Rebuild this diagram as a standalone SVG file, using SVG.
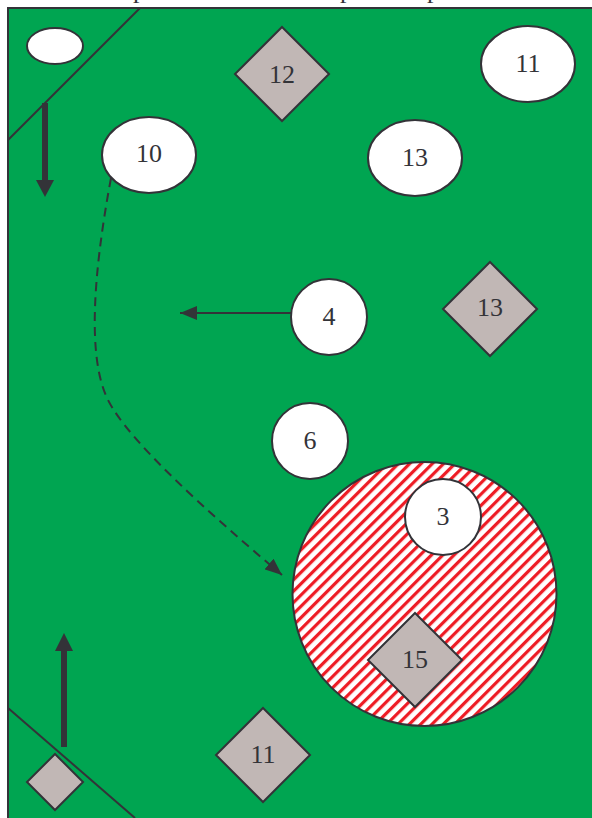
<svg xmlns="http://www.w3.org/2000/svg" width="592" height="818" viewBox="0 0 592 818">
<style>
.ln{stroke:#333338;stroke-width:2;fill:none}
.ell{fill:#ffffff;stroke:#333338;stroke-width:2}
.dia{fill:#c1b7b5;stroke:#333338;stroke-width:2}
.lbl{font-family:'Liberation Serif','Times New Roman',Times,serif;font-size:26px;fill:#333338;text-anchor:middle;dominant-baseline:central}
.top{font-family:'Liberation Serif','Times New Roman',Times,serif;font-size:26px;fill:#333338}
.thick{stroke:#333338;stroke-width:6;fill:none}
.head{fill:#333338}
</style>
<defs>
<pattern id="hatch" patternUnits="userSpaceOnUse" width="8" height="8" patternTransform="rotate(-45)">
<rect x="0" y="0" width="8" height="8" fill="#ffffff"/>
<rect x="0" y="0" width="8" height="3.2" fill="#ee1c25"/>
</pattern>
<marker id="arr" markerWidth="18" markerHeight="14" refX="17" refY="7" orient="auto" markerUnits="userSpaceOnUse">
<path d="M0,0 L17,7 L0,14 Z" fill="#333338"/>
</marker>
</defs>
<rect x="0" y="0" width="592" height="818" fill="#ffffff"/>
<text class="top" x="133" y="-2">p</text>
<text class="top" x="340" y="-2">p</text>
<text class="top" x="427" y="-2">p</text>
<rect id="field" x="8" y="8" width="610" height="840" fill="#00a551" stroke="#333338" stroke-width="2"/>
<line class="ln" x1="140" y1="8" x2="8" y2="140"/>
<line class="ln" x1="8" y1="708" x2="135" y2="818"/>

<g id="corner-top">
<ellipse class="ell" cx="55" cy="46" rx="28" ry="18"/>
</g>
<g id="corner-bottom">
<polygon class="dia" points="55,754 83,782 55,810 27,782"/>
</g>

<g id="zone">
<circle cx="424.5" cy="594" r="132" fill="url(#hatch)" stroke="#333338" stroke-width="2"/>
</g>

<g id="connectors">
<line class="thick" x1="45" y1="103" x2="45" y2="182"/>
<polygon class="head" points="36,180 54,180 45,197"/>
<line class="thick" x1="64" y1="747" x2="64" y2="649"/>
<polygon class="head" points="55,651 73,651 64,633"/>
<line class="ln" x1="291" y1="313" x2="180" y2="313" marker-end="url(#arr)"/>
<path class="ln" d="M111,178 C92,280 88,360 108,400 C128,440 205,510 282,575" stroke-dasharray="9,6" marker-end="url(#arr)"/>
</g>

<g id="n12"><polygon class="dia" points="282,27 329,74 282,121 235,74"/><text class="lbl" x="282" y="74">12</text></g>
<g id="n11a"><ellipse class="ell" cx="528" cy="64" rx="47" ry="38"/><text class="lbl" x="528" y="63">11</text></g>
<g id="n10"><ellipse class="ell" cx="149" cy="155" rx="47" ry="38"/><text class="lbl" x="149" y="153">10</text></g>
<g id="n13a"><ellipse class="ell" cx="415" cy="158" rx="47" ry="38"/><text class="lbl" x="415" y="157">13</text></g>
<g id="n4"><circle class="ell" cx="329" cy="317" r="38"/><text class="lbl" x="329" y="316">4</text></g>
<g id="n13b"><polygon class="dia" points="490,262 537,309 490,356 443,309"/><text class="lbl" x="490" y="307">13</text></g>
<g id="n6"><circle class="ell" cx="310" cy="441" r="38"/><text class="lbl" x="310" y="440">6</text></g>
<g id="n3"><circle class="ell" cx="443" cy="517" r="38"/><text class="lbl" x="443" y="516">3</text></g>
<g id="n15"><polygon class="dia" points="415,613 462,660 415,707 368,660"/><text class="lbl" x="415" y="659">15</text></g>
<g id="n11b"><polygon class="dia" points="263,708 310,755 263,802 216,755"/><text class="lbl" x="263" y="754">11</text></g>
</svg>
